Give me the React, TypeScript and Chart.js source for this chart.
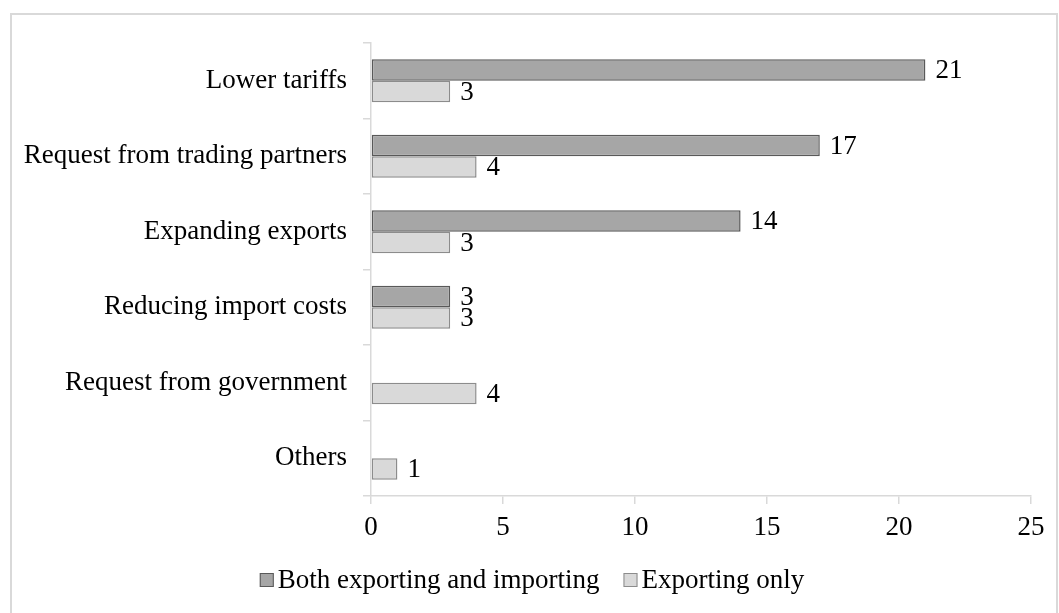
import React, { useEffect, useRef } from "react";
import { Chart, registerables } from "chart.js";

Chart.register(...registerables);

const categories = [
  "Lower tariffs",
  "Request from trading partners",
  "Expanding exports",
  "Reducing import costs",
  "Request from government",
  "Others",
];
const bothValues: (number | null)[] = [21, 17, 14, 3, null, null];
const exportOnlyValues: (number | null)[] = [3, 4, 3, 3, 4, 1];
const seriesNames = ["Both exporting and importing", "Exporting only"];
const xTicks = [0, 5, 10, 15, 20, 25];

const FONT = '"Liberation Serif", "Times New Roman", serif';
const FS = 27;

const dataLabelPlugin = {
  id: "dataLabels",
  afterDatasetsDraw(chart: any) {
    const ctx = chart.ctx;
    ctx.save();
    ctx.font = `${FS}px ${FONT}`;
    ctx.fillStyle = "#000";
    ctx.textAlign = "left";
    ctx.textBaseline = "middle";
    chart.data.datasets.forEach((ds: any, di: number) => {
      const meta = chart.getDatasetMeta(di);
      meta.data.forEach((el: any, i: number) => {
        const v = ds.data[i];
        if (v === null || v === undefined) return;
        ctx.fillText(String(v), el.x + 10, el.y + 1);
      });
    });
    ctx.restore();
  },
};

const legendPlugin = {
  id: "customLegend",
  afterDraw(chart: any) {
    const ctx = chart.ctx;
    ctx.save();
    ctx.font = `${FS}px ${FONT}`;
    const box = 14;
    const gapText = 4;
    const gapItem = 24;
    const items = chart.data.datasets.map((ds: any) => ({
      label: ds.label,
      fill: ds.backgroundColor,
      stroke: ds.borderColor,
      w: ctx.measureText(ds.label).width,
    }));
    const total =
      items.reduce((s: number, it: any) => s + box + gapText + it.w, 0) +
      gapItem * (items.length - 1);
    let x = 532 - total / 2;
    const cy = 580;
    items.forEach((it: any) => {
      ctx.fillStyle = it.fill;
      ctx.fillRect(x, cy - box / 2, box, box);
      ctx.strokeStyle = it.stroke;
      ctx.lineWidth = 1;
      ctx.strokeRect(x + 0.5, cy - box / 2 + 0.5, box - 1, box - 1);
      ctx.fillStyle = "#000";
      ctx.textAlign = "left";
      ctx.textBaseline = "middle";
      ctx.fillText(it.label, x + box + gapText, cy + 1);
      x += box + gapText + it.w + gapItem;
    });
    ctx.restore();
  },
};

export default function App() {
  const canvasRef = useRef<HTMLCanvasElement | null>(null);

  useEffect(() => {
    if (!canvasRef.current) return;
    const chart = new Chart(canvasRef.current, {
      type: "bar",
      data: {
        labels: categories,
        datasets: [
          {
            label: seriesNames[0],
            data: bothValues,
            backgroundColor: "#a6a6a6",
            borderColor: "#595959",
            borderWidth: 1.5,
            borderSkipped: false,
          },
          {
            label: seriesNames[1],
            data: exportOnlyValues,
            backgroundColor: "#d9d9d9",
            borderColor: "#8c8c8c",
            borderWidth: 1.5,
            borderSkipped: false,
          },
        ],
      },
      options: {
        indexAxis: "y",
        responsive: false,
        animation: false,
        maintainAspectRatio: false,
        layout: { padding: { left: 0, right: 28, top: 43, bottom: 67 } },
        datasets: {
          bar: { categoryPercentage: 0.57, barPercentage: 1 },
        },
        plugins: {
          legend: { display: false },
          tooltip: { enabled: false },
        },
        scales: {
          x: {
            min: 0,
            max: 25,
            afterBuildTicks: (scale: any) => {
              scale.ticks = xTicks.map((v) => ({ value: v }));
            },
            afterFit: (scale: any) => {
              scale.height = 50;
            },
            grid: {
              drawOnChartArea: false,
              drawTicks: true,
              tickLength: 8,
              color: "#d9d9d9",
              lineWidth: 1.5,
            },
            border: { display: true, color: "#d9d9d9", width: 1.5 },
            ticks: {
              color: "#000",
              padding: 8,
              font: { family: FONT, size: FS },
            },
          },
          y: {
            afterFit: (scale: any) => {
              scale.width = 371;
            },
            grid: {
              offset: true,
              drawOnChartArea: false,
              drawTicks: true,
              tickLength: 8,
              color: "#d9d9d9",
              lineWidth: 1.5,
            },
            border: { display: true, color: "#d9d9d9", width: 1.5 },
            ticks: {
              color: "#000",
              padding: 16,
              font: { family: FONT, size: FS },
            },
          },
        },
      },
      plugins: [dataLabelPlugin, legendPlugin],
    } as any);
    return () => chart.destroy();
  }, []);

  return (
    <div
      style={{
        position: "fixed",
        left: 0,
        top: 0,
        width: 1059,
        height: 613,
        overflow: "hidden",
        background: "#fff",
      }}
    >
      <div
        style={{
          position: "absolute",
          left: 10,
          top: 13,
          width: 1048,
          height: 640,
          border: "2px solid #d9d9d9",
          boxSizing: "border-box",
        }}
      />
      <canvas
        ref={canvasRef}
        width={1059}
        height={613}
        style={{ position: "absolute", left: 0, top: 0, width: 1059, height: 613 }}
      />
    </div>
  );
}
